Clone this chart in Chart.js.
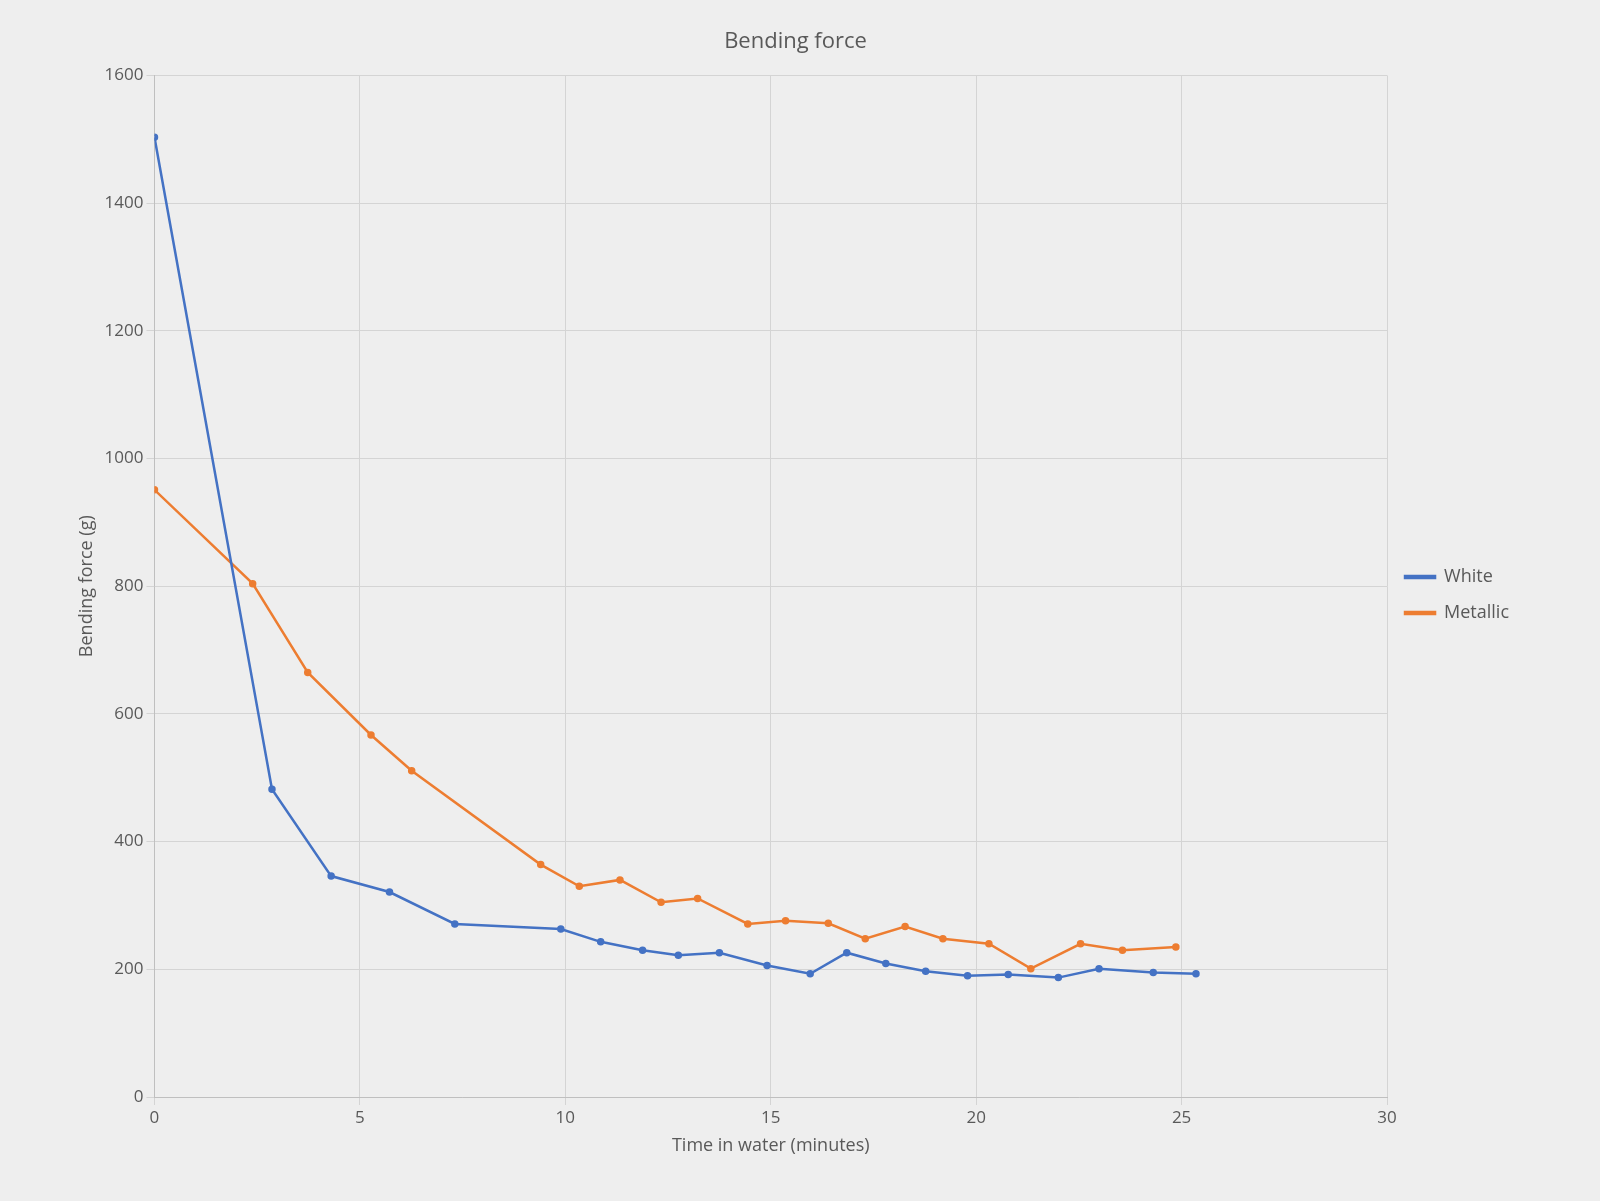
<!DOCTYPE html>
<html>
<head>
<meta charset="utf-8">
<script src="https://cdn.jsdelivr.net/npm/chart.js@4"></script>
<style>
  body { margin: 0; background: #eeeeee; }
  #wrap { width: 1600px; height: 1201px; }
</style>
</head>
<body>
<div id="wrap"><canvas id="myChart"></canvas></div>
<script>
// time (minutes) and bending force (g)
const whiteTime = [0, 2.86, 4.3, 5.72, 7.31, 9.89, 10.86, 11.88, 12.75, 13.75, 14.91, 15.96, 16.85, 17.8, 18.77, 19.79, 20.78, 22.0, 22.99, 24.31, 25.35];
const whiteForce = [1503, 482, 346, 321, 271, 263, 243, 230, 222, 226, 206, 193, 226, 209, 197, 190, 192, 187, 201, 195, 193];

const metallicTime = [0, 2.39, 3.73, 5.27, 6.26, 9.4, 10.34, 11.33, 12.33, 13.22, 14.44, 15.36, 16.4, 17.3, 18.27, 19.19, 20.31, 21.33, 22.54, 23.56, 24.86];
const metallicForce = [951, 804, 665, 567, 511, 364, 330, 340, 305, 311, 271, 276, 272, 248, 267, 248, 240, 201, 240, 230, 235];

const toPoints = (xs, ys) => xs.map((x, i) => ({ x: x, y: ys[i] }));

Chart.defaults.font.family = "'Open Sans', sans-serif";

const ctx = document.getElementById("myChart");

new Chart(ctx, {
  type: "scatter",
  data: {
    datasets: [
      {
        label: "White",
        data: toPoints(whiteTime, whiteForce),
        showLine: true,
        borderColor: "#4472c4",
        backgroundColor: "#4472c4",
        borderWidth: 2.5,
        pointRadius: 2.5,
      },
      {
        label: "Metallic",
        data: toPoints(metallicTime, metallicForce),
        showLine: true,
        borderColor: "#ed7d31",
        backgroundColor: "#ed7d31",
        borderWidth: 2.5,
        pointRadius: 2.5,
      },
    ],
  },
  options: {
    responsive: true,
    maintainAspectRatio: false,
    animation: false,
    layout: { padding: { left: 72, right: 81, top: 29, bottom: 40 } },
    scales: {
      x: {
        min: 0,
        max: 30,
        ticks: { stepSize: 5, color: "#595959", font: { size: 17 }, callback: (v) => String(v) },
        grid: { color: "#d4d4d4" },
        border: { color: "#bfbfbf" },
        title: { display: true, text: "Time in water (minutes)", color: "#595959", font: { size: 18 } },
      },
      y: {
        min: 0,
        max: 1600,
        ticks: { stepSize: 200, color: "#595959", font: { size: 17 }, callback: (v) => String(v) },
        grid: { color: "#d4d4d4" },
        border: { color: "#bfbfbf" },
        title: { display: true, text: "Bending force (g)", color: "#595959", font: { size: 18 } },
      },
    },
    plugins: {
      legend: {
        position: "right",
        labels: {
          color: "#595959",
          font: { size: 18 },
          boxWidth: 30,
          boxHeight: 2,
          padding: 18,
        },
      },
      title: {
        display: true,
        text: "Bending force",
        color: "#595959",
        font: { size: 22, weight: "normal" },
        padding: { top: 0, bottom: 20 },
      },
    },
  },
});
</script>
</body>
</html>
